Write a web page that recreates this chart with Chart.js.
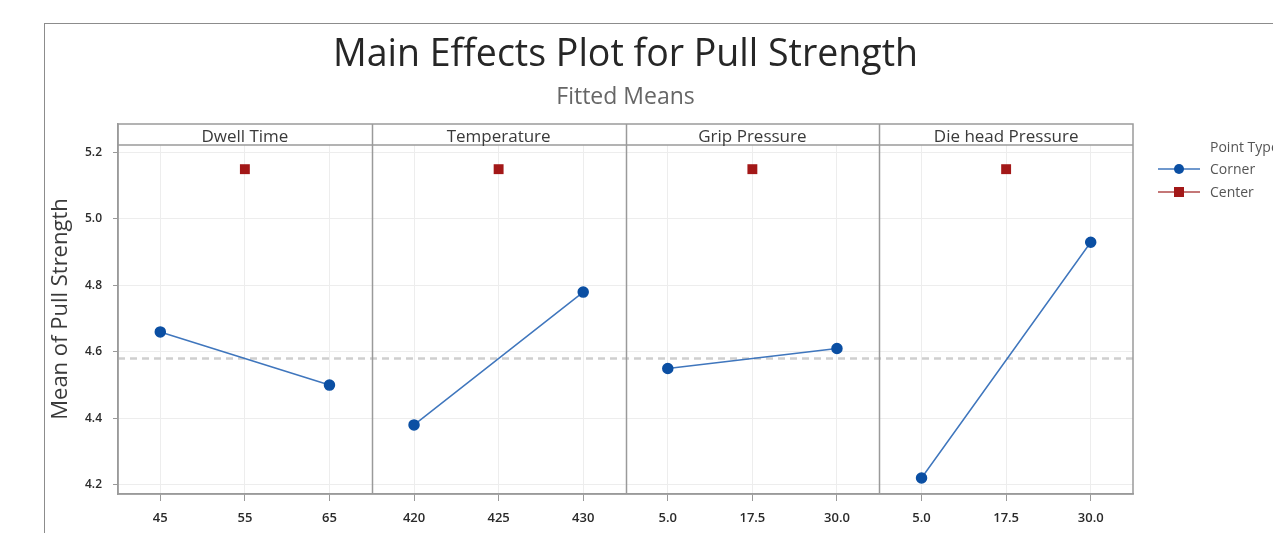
<!DOCTYPE html>
<html><head><meta charset="utf-8">
<script src="https://cdn.jsdelivr.net/npm/chart.js@4.4.0/dist/chart.umd.min.js"></script>
<style>
html,body{margin:0;padding:0;background:#fff;overflow:hidden;}
#frame{position:absolute;left:44px;top:23px;width:1400px;height:700px;border:1px solid #8c8c8c;box-sizing:border-box;}
#wrap{position:absolute;left:0;top:0;width:1273px;height:533px;}
</style></head><body>
<div id="frame"></div>
<div id="wrap"><canvas id="c"></canvas></div>
<script>
const factors = ['Dwell Time', 'Temperature', 'Grip Pressure', 'Die head Pressure'];
const levelLabels = ['45', '55', '65', '420', '425', '430', '5.0', '17.5', '30.0', '5.0', '17.5', '30.0'];
const cornerLow = [4.66, 4.38, 4.55, 4.22];
const cornerHigh = [4.50, 4.78, 4.61, 4.93];
const centerMean = [5.15, 5.15, 5.15, 5.15];
const overallMean = 4.58;
const yTicks = [4.2, 4.4, 4.6, 4.8, 5.0, 5.2];
const chartTitle = 'Main Effects Plot for Pull Strength';
const chartSubtitle = 'Fitted Means';
const yTitle = 'Mean of Pull Strength';
const legendTitle = 'Point Type';
const seriesNames = ['Corner', 'Center'];

const FONT = "'Open Sans', sans-serif";
const BLUE = '#0b4fa3';
const BLUE_LINE = '#3f76bd';
const RED = '#a31818';

const cornerData = [];
factors.forEach((f, i) => {
  cornerData.push({x: 3 * i, y: cornerLow[i]});
  cornerData.push({x: 3 * i + 2, y: cornerHigh[i]});
  cornerData.push({x: 3 * i + 2.5, y: null});
});
const centerData = factors.map((f, i) => ({x: 3 * i + 1, y: centerMean[i]}));
const meanData = [{x: -0.5, y: overallMean}, {x: levelLabels.length - 0.5, y: overallMean}];

const panelPlugin = {
  id: 'panels',
  beforeDatasetsDraw(chart) {
    const {ctx, chartArea: a} = chart;
    ctx.save();
    ctx.fillStyle = '#fff';
    ctx.fillRect(a.left + 1, a.top, a.right - a.left - 2, 21);
    ctx.restore();
  },
  afterDraw(chart) {
    const {ctx, chartArea: a, scales: {x}} = chart;
    ctx.save();
    ctx.strokeStyle = '#9a9a9a';
    ctx.lineWidth = 1.5;
    ctx.strokeRect(a.left, a.top, a.right - a.left, a.bottom - a.top);
    ctx.beginPath();
    ctx.moveTo(a.left, a.top + 21); ctx.lineTo(a.right, a.top + 21);
    for (let i = 1; i < factors.length; i++) {
      const px = Math.round(x.getPixelForValue(3 * i - 0.5)) + 0.5;
      ctx.moveTo(px, a.top); ctx.lineTo(px, a.bottom);
    }
    ctx.stroke();
    // strip labels
    ctx.fillStyle = '#3a3a3a';
    ctx.font = "17px " + FONT;
    ctx.textAlign = 'center';
    ctx.textBaseline = 'middle';
    factors.forEach((f, i) => {
      ctx.fillText(f, x.getPixelForValue(3 * i + 1), a.top + 13);
    });
    // title
    const cx = (a.left + a.right) / 2;
    ctx.fillStyle = '#262626';
    ctx.textBaseline = 'alphabetic';
    ctx.font = "500 37.5px " + FONT;
    ctx.fillText(chartTitle, cx, 66);
    ctx.fillStyle = '#666';
    ctx.font = "23px " + FONT;
    ctx.fillText(chartSubtitle, cx, 104);
    // legend
    const lx = a.right + 25;
    ctx.textAlign = 'left';
    ctx.textBaseline = 'middle';
    ctx.fillStyle = '#555';
    ctx.font = "14px " + FONT;
    ctx.fillText(legendTitle, lx + 52, 148);
    const rows = [{name: seriesNames[0], y: 169, line: BLUE_LINE, col: BLUE, shape: 'circle'},
                  {name: seriesNames[1], y: 192, line: '#b04a4a', col: RED, shape: 'rect'}];
    rows.forEach(r => {
      ctx.strokeStyle = r.line;
      ctx.lineWidth = 1.5;
      ctx.beginPath(); ctx.moveTo(lx, r.y); ctx.lineTo(lx + 42, r.y); ctx.stroke();
      ctx.fillStyle = r.col;
      if (r.shape === 'circle') { ctx.beginPath(); ctx.arc(lx + 21, r.y, 5, 0, Math.PI * 2); ctx.fill(); }
      else { ctx.fillRect(lx + 16, r.y - 5, 10, 10); }
      ctx.fillStyle = '#555';
      ctx.fillText(r.name, lx + 52, r.y + 1);
    });
    ctx.restore();
  }
};

new Chart(document.getElementById('c'), {
  type: 'line',
  data: {
    datasets: [
      {label: seriesNames[0], data: cornerData, borderColor: BLUE_LINE, borderWidth: 1.5,
       pointBackgroundColor: BLUE, pointBorderColor: BLUE, pointRadius: 5, pointStyle: 'circle',
       spanGaps: false, order: 1},
      {label: seriesNames[1], data: centerData, showLine: false, pointStyle: 'rect',
       pointBackgroundColor: RED, pointBorderColor: RED, pointRadius: 7, borderWidth: 0, order: 0},
      {label: 'mean', data: meanData, borderColor: '#cfcfcf', borderWidth: 2.5, borderDash: [7, 5],
       pointRadius: 0, order: 5}
    ]
  },
  options: {
    responsive: true, maintainAspectRatio: false, animation: false,
    layout: {padding: {left: 44, top: 124, right: 140, bottom: 0}},
    plugins: {legend: {display: false}, tooltip: {enabled: false}, title: {display: false}},
    scales: {
      x: {
        type: 'linear', min: -0.5, max: levelLabels.length - 0.5,
        afterBuildTicks(axis) { axis.ticks = levelLabels.map((l, i) => ({value: i})); },
        afterFit(axis) { axis.height = 39; },
        ticks: {autoSkip: false, maxRotation: 0, padding: 9, color: '#2a2a2a',
                font: {family: FONT, size: 13, weight: '600'}, callback: (v) => levelLabels[v]},
        grid: {color: '#ededed', tickColor: '#999', tickLength: 7, lineWidth: 1},
        border: {display: true, color: '#9a9a9a', width: 1.5}
      },
      y: {
        type: 'linear', min: 4.172, max: 5.286,
        afterBuildTicks(axis) { axis.ticks = yTicks.map(v => ({value: v})); },
        afterFit(axis) { axis.width = 74; },
        ticks: {padding: 11, color: '#2a2a2a', font: {family: FONT, size: 12, weight: '600'},
                callback: (v) => Number(v).toFixed(1)},
        grid: {color: '#ededed', tickColor: '#999', tickLength: 5, lineWidth: 1},
        border: {display: true, color: '#9a9a9a', width: 1.5},
        title: {display: true, text: yTitle, color: '#3a3a3a', font: {family: FONT, size: 22, weight: '500'},
                padding: {top: 4, bottom: 4}}
      }
    }
  },
  plugins: [panelPlugin]
});
</script>
</body></html>
